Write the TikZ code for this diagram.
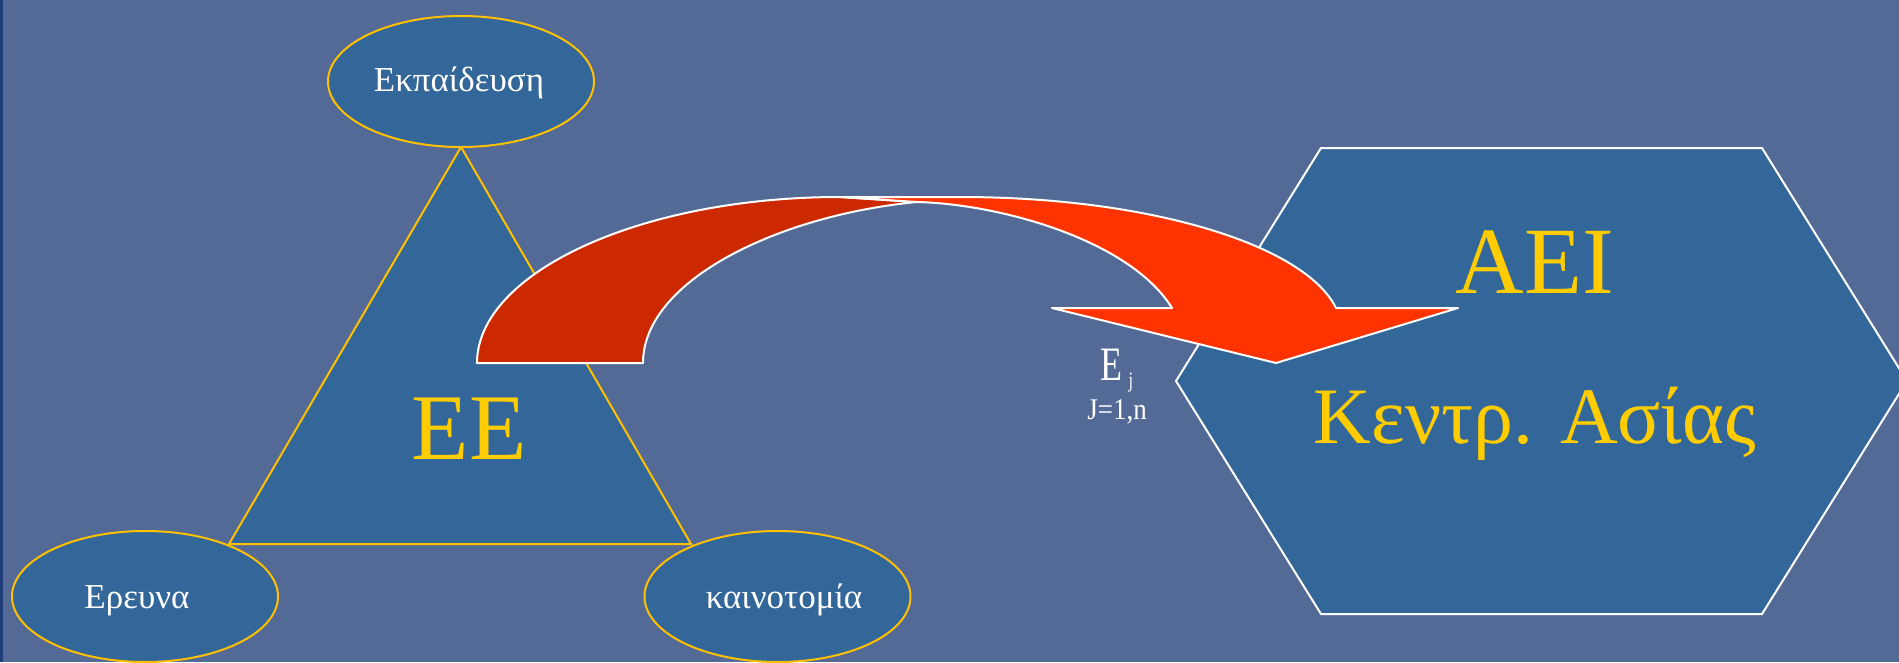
\documentclass[tikz,border=0pt]{standalone}
\usepackage{fontspec}
\setmainfont{Liberation Serif}
\usetikzlibrary{shapes.geometric}
\definecolor{bg}{HTML}{546A96}
\definecolor{shapefill}{HTML}{336699}
\definecolor{gold}{HTML}{FFC000}
\definecolor{txtyellow}{HTML}{FFCC00}
\definecolor{darkred}{HTML}{CC2900}
\definecolor{brightred}{HTML}{FF3300}
\definecolor{strip}{HTML}{1E3C78}
\begin{document}
\begin{tikzpicture}[x=1pt,y=-1pt,
  oval/.style={ellipse, draw=gold, line width=2pt, fill=shapefill, minimum width=266pt, minimum height=131pt, inner sep=0pt},
  smalltxt/.style={text=white, font=\fontsize{35}{35}\selectfont, anchor=base, inner sep=0pt},
  bigtxt/.style={text=txtyellow, anchor=base, inner sep=0pt},
  arrowpart/.style={draw=white, line width=2pt, line join=round}]
\useasboundingbox (0,0) rectangle (1899,662);
\clip (0,0) rectangle (1899,662);
\fill[bg] (0,0) rectangle (1899,662);
\fill[strip] (0,0) rectangle (3,662);
% triangle
\coordinate (ta) at (461,147);
\coordinate (tl) at (229,544);
\coordinate (tr) at (691,544);
\draw[gold, line width=2pt, fill=shapefill, line join=miter] (ta) -- (tl) -- (tr) -- cycle;
% ellipses
\node[oval] (ek) at (461,81.5) {};
\node[oval] (er) at (145,596.5) {};
\node[oval] (ka) at (777.5,596.5) {};
\node[smalltxt] (tek) at (459,91) {Εκπαίδευση};
\node[smalltxt] (ter) at (137,608) {Ερευνα};
\node[smalltxt] (tka) at (784,608) {καινοτομία};
\node[bigtxt, font=\fontsize{94}{94}\selectfont] (tee) at (469,459) {ΕΕ};
% hexagon
\draw[white, line width=2pt, fill=shapefill] (1321,148) -- (1762,148) -- (1907,381) -- (1762,614) -- (1321,614) -- (1176,381) -- cycle;
\node[bigtxt, font=\fontsize{95}{95}\selectfont] (taei) at (1535,293) {ΑΕΙ};
\node[bigtxt, font=\fontsize{80}{80}\selectfont] (tkas) at (1535,443) {Κεντρ. Ασίας};
% curved arrow
\draw[arrowpart, fill=darkred] (477,363) .. controls (477,273) and (640,197) .. (840,197)
  -- (917,202) .. controls (780,215) and (643,280) .. (643,363) -- cycle;
\draw[arrowpart, fill=brightred] (840,197) -- (960,197) .. controls (1150,197) and (1305,245) .. (1336,308)
  -- (1458,308) -- (1276,363) -- (1052,308) -- (1172,308)
  .. controls (1130,240) and (1000,204) .. (917,202) -- cycle;
% label
\node[text=white, anchor=base, inner sep=0pt, font=\fontsize{48}{48}\selectfont] (tej) at (1111,380) {\scalebox{0.75}[1]{E}};
\node[text=white, anchor=base, inner sep=0pt, font=\fontsize{22}{22}\selectfont] (tjs) at (1131,387) {\scalebox{0.75}[1]{j}};
\node[text=white, anchor=base, inner sep=0pt, font=\fontsize{30}{30}\selectfont] (tjn) at (1117,419) {\scalebox{0.9}[1]{J=1,n}};
\end{tikzpicture}
\end{document}
